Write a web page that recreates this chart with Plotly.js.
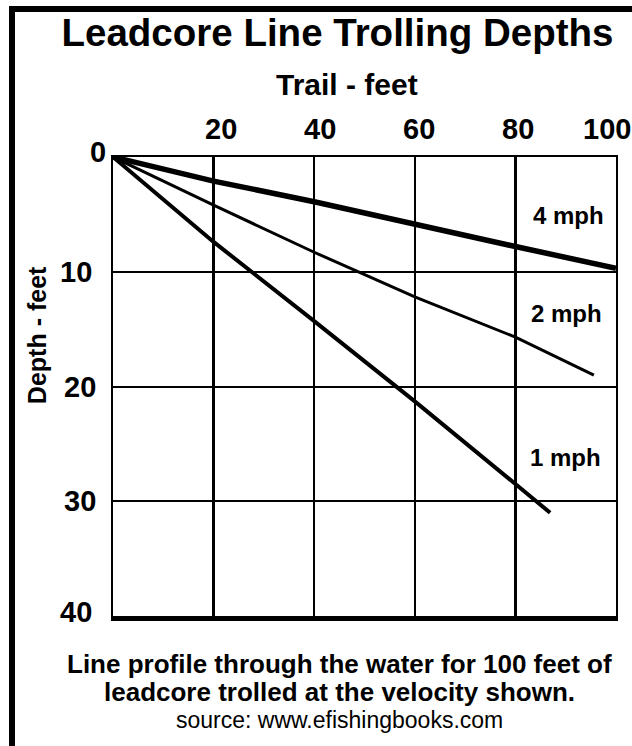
<!DOCTYPE html>
<html>
<head>
<meta charset="utf-8">
<script src="https://cdn.plot.ly/plotly-3.0.1.min.js"></script>
<style>
  html, body { margin: 0; padding: 0; background: #fff; }
  #wrap { position: relative; width: 632px; height: 746px; overflow: hidden; }
  #chart { position: absolute; left: 0; top: 0; width: 632px; height: 746px; }
  #frame { position: absolute; left: 9px; top: 6px; width: 640px; height: 760px;
           border-left: 6px solid #000; border-top: 6px solid #000; pointer-events: none; }
</style>
</head>
<body>
<div id="wrap"><div id="chart"></div><div id="frame"></div></div>
<script>
// ---- data ----
const trail4 = [0, 20, 40, 60, 80, 100];
const depth4 = [0, 2.1, 3.9, 5.9, 7.8, 9.7];
const trail2 = [0, 20, 40, 60, 80, 95.6];
const depth2 = [0, 4.2, 8.3, 12.2, 15.7, 19.0];
const trail1 = [0, 20, 40, 60, 80, 86.9];
const depth1 = [0, 7.4, 14.3, 21.3, 28.5, 31.0];

const seriesLabels = ['4 mph', '2 mph', '1 mph'];
const labelTrail = [90.6, 90.2, 90.0];
const labelDepth = [5.1, 13.6, 26.2];

const xTickVals = [20, 40, 60, 80, 100];
const xTickText = ['20', '40', '60', '80', '100'];
const xTickNudge = [7, 6, 4, 3, -9];     // label offsets in px, as in the picture
const xMajorVals = [20, 80];
const yTickVals = [0, 10, 20, 30, 40];
const yTickText = ['0', '10', '20', '30', '40'];
const yTickNudgeX = [-5, -19, -15, -15, -19];
const yTickNudgeY = [5, 0, 0, 0, 4];

const titleText = 'Leadcore Line Trolling Depths';
const xTitleText = 'Trail - feet';
const yTitleText = 'Depth - feet';
const noteLines = ['Line profile through the water for 100 feet of',
                   'leadcore trolled at the velocity shown.'];
const sourceText = 'source: www.efishingbooks.com';

// ---- chart ----
const FAM = 'Liberation Sans, Arial, Helvetica, sans-serif';
const bold = (size) => ({ family: FAM, size: size, color: '#000', weight: 'bold' });

const traces = [
  { x: trail4, y: depth4, mode: 'lines', line: { color: '#000', width: 5.5 }, hoverinfo: 'skip', name: seriesLabels[0] },
  { x: trail2, y: depth2, mode: 'lines', line: { color: '#000', width: 3 }, hoverinfo: 'skip', name: seriesLabels[1] },
  { x: trail1, y: depth1, mode: 'lines', line: { color: '#000', width: 4 }, hoverinfo: 'skip', name: seriesLabels[2] },
  { x: [0, 100], y: [0, 0], xaxis: 'x2', yaxis: 'y', mode: 'lines', line: { width: 0 }, hoverinfo: 'skip', showlegend: false }
];

const annotations = [];
seriesLabels.forEach((t, i) => annotations.push({
  text: t, x: labelTrail[i], y: labelDepth[i], xref: 'x', yref: 'y',
  showarrow: false, font: bold(24), xanchor: 'center', yanchor: 'middle'
}));
// top tick labels of the trail axis
xTickVals.forEach((v, i) => annotations.push({
  text: xTickText[i], x: v, xref: 'x', y: 1, yref: 'paper', yanchor: 'bottom',
  yshift: 10, xshift: xTickNudge[i], showarrow: false, font: bold(29), xanchor: 'center'
}));
// left tick labels of the depth axis
yTickVals.forEach((v, i) => annotations.push({
  text: yTickText[i], x: 0, xref: 'paper', y: v, yref: 'y', xanchor: 'right', yanchor: 'middle',
  xshift: yTickNudgeX[i], yshift: yTickNudgeY[i], showarrow: false, font: bold(29)
}));
annotations.push({ text: xTitleText, xref: 'paper', yref: 'paper', x: 0.465, y: 1.157,
  showarrow: false, font: bold(30), xanchor: 'center', yanchor: 'middle' });
annotations.push({ text: yTitleText, xref: 'paper', yref: 'paper', x: -0.151, y: 0.612,
  textangle: -90, showarrow: false, font: bold(25), xanchor: 'center', yanchor: 'middle' });
annotations.push({ text: noteLines[0], xref: 'paper', yref: 'paper', x: 0.451, y: -0.105,
  showarrow: false, font: bold(26), xanchor: 'center', yanchor: 'middle' });
annotations.push({ text: noteLines[1], xref: 'paper', yref: 'paper', x: 0.451, y: -0.166,
  showarrow: false, font: bold(26), xanchor: 'center', yanchor: 'middle' });
annotations.push({ text: sourceText, xref: 'paper', yref: 'paper', x: 0.451, y: -0.227,
  showarrow: false, font: { family: FAM, size: 23, color: '#000' }, xanchor: 'center', yanchor: 'middle' });

const layout = {
  width: 632, height: 746,
  margin: { l: 113, r: 16, t: 157, b: 130, pad: 0 },
  paper_bgcolor: '#fff', plot_bgcolor: '#fff',
  showlegend: false,
  title: { text: titleText, font: bold(38.5), x: 0.534, xref: 'container', xanchor: 'center',
           y: 1 - 33 / 746, yref: 'container', yanchor: 'middle' },
  xaxis: {
    range: [0, 100], side: 'top', tickmode: 'array', tickvals: xTickVals, ticktext: xTickText,
    showticklabels: false,
    showgrid: true, gridcolor: '#000', gridwidth: 2, zeroline: false,
    showline: true, linecolor: '#000', linewidth: 2, mirror: true,
    ticks: '', fixedrange: true
  },
  xaxis2: {
    range: [0, 100], overlaying: 'x', side: 'bottom', tickmode: 'array', tickvals: xMajorVals,
    showticklabels: false, showgrid: true, gridcolor: '#000', gridwidth: 3.5, zeroline: false,
    showline: true, linecolor: '#000', linewidth: 4.5, ticks: '', fixedrange: true
  },
  yaxis: {
    range: [40, 0], tickmode: 'array', tickvals: yTickVals, ticktext: yTickText,
    showticklabels: false,
    showgrid: true, gridcolor: '#000', gridwidth: 2, zeroline: false,
    showline: true, linecolor: '#000', linewidth: 2, mirror: true,
    ticks: '', fixedrange: true
  },
  annotations: annotations
};

Plotly.newPlot('chart', traces, layout, { staticPlot: true, displayModeBar: false });
</script>
</body>
</html>
